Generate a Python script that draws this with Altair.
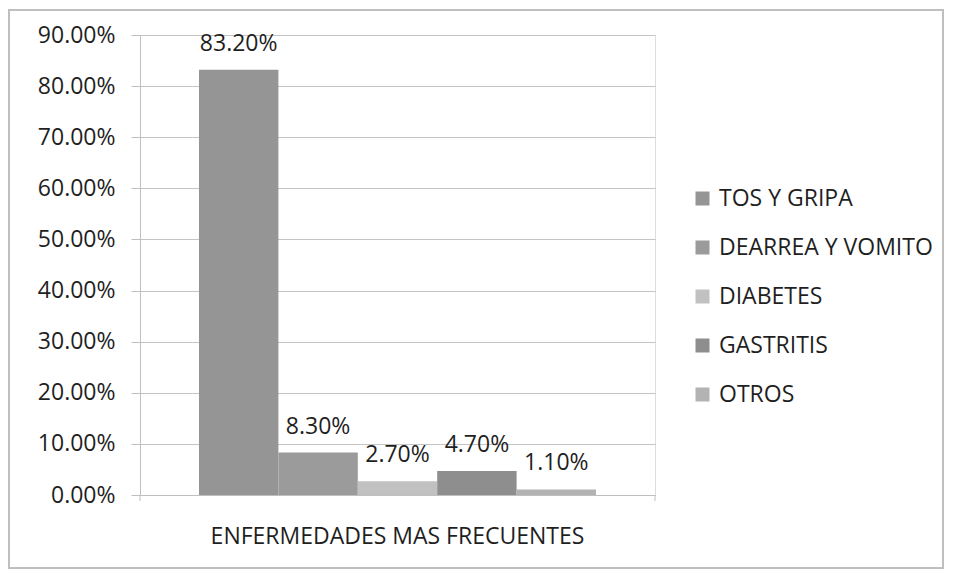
import altair as alt
import pandas as pd

grupo = "ENFERMEDADES MAS FRECUENTES"
series = ["TOS Y GRIPA", "DEARREA Y VOMITO", "DIABETES", "GASTRITIS", "OTROS"]
values = [0.832, 0.083, 0.027, 0.047, 0.011]
colors = ["#959595", "#9b9b9b", "#c1c1c1", "#8e8e8e", "#b3b3b3"]
y_ticks = [0.0, 0.1, 0.2, 0.3, 0.4, 0.5, 0.6, 0.7, 0.8, 0.9]

df = pd.DataFrame({"grupo": [grupo] * len(series), "serie": series, "valor": values})

FONT = "Open Sans"
FS = 23
TXT = "#1f1f1f"
W, H = 515, 460

x_enc = alt.X("grupo:N", title=None,
              scale=alt.Scale(paddingInner=0, paddingOuter=0.1486),
              axis=alt.Axis(ticks=False, labelPadding=30, labelAngle=0, labelLimit=0,
                            domainColor="#bfbfbf", labelFontSize=FS,
                            labelColor=TXT, labelFont=FONT))
xoff = alt.XOffset("serie:N", sort=series, scale=alt.Scale(paddingInner=0, paddingOuter=0))
y_enc = alt.Y("valor:Q", title=None,
              scale=alt.Scale(domain=[0, 0.9], nice=False),
              axis=alt.Axis(values=y_ticks, format=".2%", gridColor="#c4c4c4",
                            domainColor="#bfbfbf", tickColor="#bfbfbf", tickSize=9,
                            labelFontSize=FS, labelColor=TXT, labelFont=FONT,
                            labelPadding=16, labelLimit=0))

bars = alt.Chart(df).mark_bar().encode(
    x=x_enc, xOffset=xoff, y=y_enc,
    color=alt.Color("serie:N", sort=series,
                    scale=alt.Scale(domain=series, range=colors),
                    legend=alt.Legend(title=None, orient="none", legendX=551, legendY=152,
                                      symbolType="square", symbolSize=196,
                                      symbolStrokeWidth=0, labelFontSize=FS,
                                      labelFont=FONT, labelColor=TXT, labelLimit=0,
                                      rowPadding=25, labelOffset=5)),
)

labels = alt.Chart(df).mark_text(dy=-14, baseline="bottom", fontSize=FS, font=FONT,
                                 color=TXT).encode(
    x=alt.X("grupo:N"), xOffset=xoff, y=alt.Y("valor:Q"),
    text=alt.Text("valor:Q", format=".2%"),
)

edge = pd.DataFrame({"e": [0]})
end_ticks = alt.Chart(edge).mark_rule(color="#bfbfbf").encode(
    x=alt.value(0), y=alt.value(H), y2=alt.value(H + 6))
end_ticks2 = alt.Chart(edge).mark_rule(color="#bfbfbf").encode(
    x=alt.value(W), y=alt.value(H), y2=alt.value(H + 6))
border = alt.Chart(edge).mark_rect(fill=None, stroke="#bfbfbf", strokeWidth=2, clip=False).encode(
    x=alt.value(-131), x2=alt.value(803), y=alt.value(-25), y2=alt.value(533))

chart = alt.layer(border, bars, labels, end_ticks, end_ticks2).properties(
    width=W, height=H,
    autosize=alt.AutoSizeParams(type="none"),
    padding={"left": 132, "top": 27, "right": 290, "bottom": 76},
).configure_view(stroke=None).configure(background="white")

chart.save("out.html", embed_options={"renderer": "svg", "actions": False})
